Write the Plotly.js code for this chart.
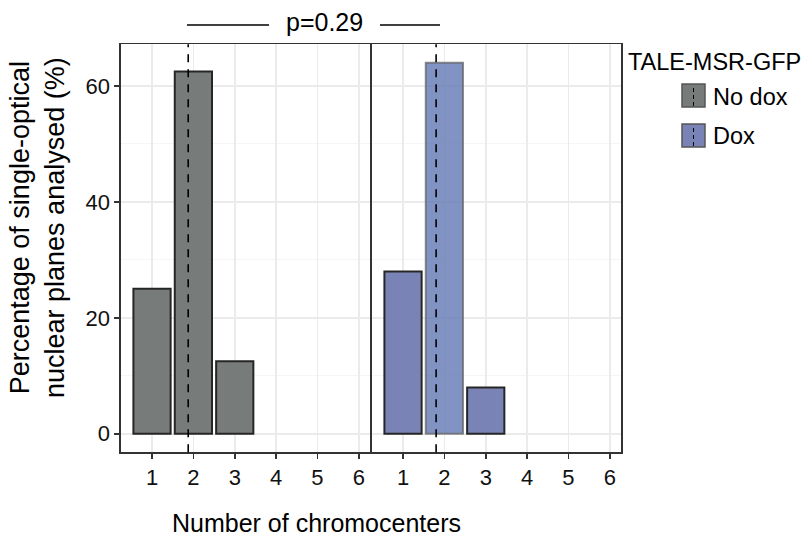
<!DOCTYPE html>
<html>
<head>
<meta charset="utf-8">
<script src="https://cdn.plot.ly/plotly-3.0.1.min.js"></script>
<style>html,body{margin:0;padding:0;background:#fff;}#chart{width:808px;height:545px;}</style>
</head>
<body>
<div id="chart"></div>
<script>
// ---- data ----
const chromocenters = [1, 2, 3];
const tickValues = [1, 2, 3, 4, 5, 6];
const tickLabels = ['1', '2', '3', '4', '5', '6'];
const noDoxPct = [25, 62.5, 12.5];
const doxPct = [28, 64, 8];
const groupNames = ['No dox', 'Dox'];
const groupMeans = [1.875, 1.8];
const yTickValues = [0, 20, 40, 60];
const pLabel = 'p=0.29';
const legendTitle = 'TALE-MSR-GFP';

// ---- helpers ----
const W = 808, H = 545;
const px = x => x / W;
const py = y => 1 - y / H;
const FONT = 'Liberation Sans, Arial, Helvetica, sans-serif';

const greyFill = '#777b7a';
const blueFill = '#7a83b5';

const noDox = {
  type: 'bar', x: chromocenters, y: noDoxPct, xaxis: 'x', yaxis: 'y',
  width: 0.9, name: groupNames[0], hoverinfo: 'skip',
  marker: {color: greyFill, line: {color: '#262626', width: 2}}
};
const dox = {
  type: 'bar', x: chromocenters, y: doxPct, xaxis: 'x2', yaxis: 'y2',
  width: 0.9, name: groupNames[1], hoverinfo: 'skip',
  marker: {
    color: [blueFill, 'rgba(98,120,180,0.80)', blueFill],
    line: {color: ['#262626', 'rgba(100,100,100,0.75)', '#262626'], width: 2}
  }
};

const xBase = {
  range: [0.25, 6.27], tickmode: 'array', tickvals: tickValues, ticktext: tickLabels,
  showline: true, mirror: true, linecolor: '#333333', linewidth: 1.6,
  ticks: 'outside', ticklen: 5, tickwidth: 1.5, tickcolor: '#333333',
  showgrid: true, gridcolor: '#ebebeb', gridwidth: 1.5, zeroline: false,
  tickfont: {family: FONT, size: 22, color: '#111'}, fixedrange: true
};
const yDomain = [py(452.3), py(44.3)];
const yBase = {
  domain: yDomain, range: [-3.2, 67.2], tickmode: 'array', tickvals: yTickValues,
  showline: true, mirror: true, linecolor: '#333333', linewidth: 1.6,
  ticks: 'outside', ticklen: 5, tickwidth: 1.5, tickcolor: '#333333',
  showgrid: true, gridcolor: '#ebebeb', gridwidth: 1.5, zeroline: false,
  minor: {tickmode: 'array', tickvals: [10, 30, 50], showgrid: true, gridcolor: '#f2f2f2', gridwidth: 0.8, ticks: ''},
  tickfont: {family: FONT, size: 22, color: '#111'}, fixedrange: true
};

const shapes = [];
// mean dashed lines
['x', 'x2'].forEach((xr, i) => {
  shapes.push({
    type: 'line', xref: xr, yref: (i === 0 ? 'y domain' : 'y2 domain'),
    x0: groupMeans[i], x1: groupMeans[i], y0: 0, y1: 1, layer: 'above',
    line: {color: '#000', width: 1.6, dash: '8px,7px'}
  });
});
// p-value bracket lines
shapes.push({type: 'line', xref: 'paper', yref: 'paper', x0: px(187), x1: px(269), y0: py(25), y1: py(25), line: {color: '#000', width: 1.3}});
shapes.push({type: 'line', xref: 'paper', yref: 'paper', x0: px(380), x1: px(440), y0: py(25), y1: py(25), line: {color: '#000', width: 1.3}});
// custom legend keys
const keyFills = [greyFill, blueFill];
const keyTops = [84, 124];
keyTops.forEach((t, i) => {
  shapes.push({type: 'rect', xref: 'paper', yref: 'paper', x0: px(682), x1: px(705), y0: py(t + 23), y1: py(t),
    fillcolor: keyFills[i], line: {color: '#555', width: 1.5}});
  shapes.push({type: 'line', xref: 'paper', yref: 'paper', x0: px(693.5), x1: px(693.5), y0: py(t + 22), y1: py(t + 1),
    line: {color: '#000', width: 1, dash: '4px,3px'}});
});

const annotations = [
  {text: pLabel, xref: 'paper', yref: 'paper', x: px(324), y: py(22), xanchor: 'center', yanchor: 'middle', showarrow: false,
    font: {family: FONT, size: 25, color: '#000'}},
  {text: 'Number of chromocenters', xref: 'paper', yref: 'paper', x: px(316), y: py(523), xanchor: 'center', yanchor: 'middle', showarrow: false,
    font: {family: FONT, size: 25, color: '#000'}},
  {text: 'Percentage of single-optical<br>nuclear planes analysed (%)', xref: 'paper', yref: 'paper', x: px(37), y: py(228),
    xanchor: 'center', yanchor: 'middle', showarrow: false, textangle: -90,
    font: {family: FONT, size: 27, color: '#000'}},
  {text: legendTitle, xref: 'paper', yref: 'paper', x: px(626), y: py(62), xanchor: 'left', yanchor: 'middle', showarrow: false,
    font: {family: FONT, size: 23.5, color: '#000'}},
  {text: groupNames[0], xref: 'paper', yref: 'paper', x: px(711), y: py(97), xanchor: 'left', yanchor: 'middle', showarrow: false,
    font: {family: FONT, size: 23.5, color: '#000'}},
  {text: groupNames[1], xref: 'paper', yref: 'paper', x: px(711), y: py(136), xanchor: 'left', yanchor: 'middle', showarrow: false,
    font: {family: FONT, size: 23.5, color: '#000'}}
];

const layout = {
  width: W, height: H,
  margin: {l: 0, r: 0, t: 0, b: 0},
  paper_bgcolor: '#fff', plot_bgcolor: '#fff',
  showlegend: false, bargap: 0,
  font: {family: FONT, color: '#000'},
  xaxis: Object.assign({}, xBase, {domain: [px(121), px(370)], anchor: 'y'}),
  xaxis2: Object.assign({}, xBase, {domain: [px(372), px(621)], anchor: 'y2'}),
  yaxis: Object.assign({}, yBase, {anchor: 'x'}),
  yaxis2: Object.assign({}, yBase, {anchor: 'x2', matches: 'y', showticklabels: false, ticks: ''}),
  shapes: shapes,
  annotations: annotations
};

Plotly.newPlot('chart', [noDox, dox], layout, {displayModeBar: false, staticPlot: true});
</script>
</body>
</html>
